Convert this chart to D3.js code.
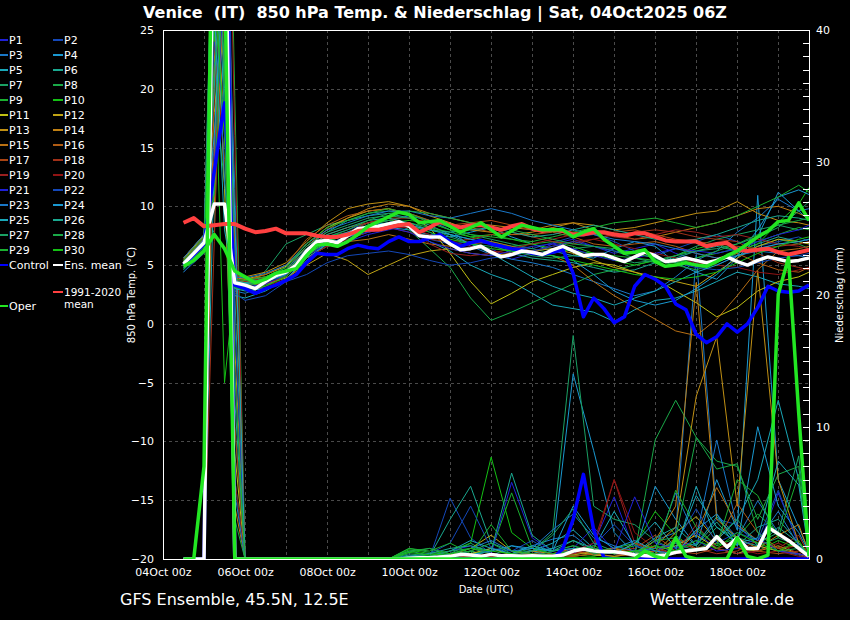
<!DOCTYPE html>
<html>
<head>
<meta charset="utf-8">
<script src="https://cdn.jsdelivr.net/npm/d3@7"></script>
<style>
body { margin: 0; background: #000; }
text { font-family: "DejaVu Sans", sans-serif; fill: #fff; }
</style>
</head>
<body>
<svg id="chart" width="850" height="620"></svg>
<script>
// GFS ensemble plume, Venice, run 04Oct2025 06Z

const startTime = Date.UTC(2025, 9, 4, 12); // first step, 6-hourly afterwards
const steps = d3.range(62);
// members are read at 12h resolution (6h around the 05Oct glitch)
const memberSteps = [0, 2, 3, 4, 5, 6, 8, 10, 12, 14, 16, 18, 20, 22, 24, 26, 28, 30, 32, 34, 36, 38, 40, 42, 44, 46, 48, 50, 52, 54, 56, 58, 60, 61];

const xTicks = [0, 2, 4, 6, 8, 10, 12, 14].map(d => new Date(Date.UTC(2025, 9, 4 + d)));
const tempTicks = [-20, -15, -10, -5, 0, 5, 10, 15, 20, 25];
const precTicks = [0, 10, 20, 30, 40];

const ensMeanTemp = [5.1, 6.0, 6.9, 10.2, 10.2, 3.5, 3.3, 3.0, 3.6, 4.1, 4.4, 5.0, 6.2, 7.0, 7.1, 6.9, 7.5, 8.1, 8.2, 8.3,
  8.5, 8.7, 8.3, 7.5, 7.4, 7.4, 6.8, 6.3, 6.4, 6.6, 6.1, 5.7, 5.9, 6.2, 6.1, 5.9, 6.3, 6.6, 6.2, 5.8,
  5.9, 5.9, 5.6, 5.3, 5.7, 6.1, 5.8, 5.3, 5.4, 5.6, 5.4, 5.2, 5.4, 5.7, 5.3, 5.0, 5.4, 5.7, 5.5, 5.3, 5.4, 5.6];
const climTemp = [8.6, 9.0, 8.3, 8.4, 8.5, 8.5, 8.1, 7.8, 7.9, 8.1, 7.7, 7.7, 7.7, 7.5, 7.4, 7.4, 7.6, 7.9, 8.0, 8.0,
  8.2, 8.4, 8.5, 7.8, 8.2, 8.7, 8.4, 8.2, 8.4, 8.4, 8.2, 8.0, 8.3, 8.5, 8.1, 7.9, 8.0, 7.9, 7.6, 7.6,
  7.8, 7.8, 7.6, 7.5, 7.7, 7.7, 7.4, 7.1, 7.0, 7.0, 7.0, 6.6, 6.8, 6.9, 6.3, 6.2, 6.3, 6.4, 6.1, 5.9, 6.1, 6.3];
const controlTemp = [5.0, 5.9, 6.8, 13.0, 18.8, 3.3, 3.0, 2.6, 3.0, 3.3, 3.7, 4.2, 5.2, 6.0, 5.9, 5.9, 6.4, 6.7, 6.5, 6.4,
  7.0, 7.4, 7.0, 7.0, 7.3, 7.6, 7.0, 6.6, 6.9, 7.1, 6.8, 6.6, 6.4, 6.3, 6.0, 5.9, 6.1, 6.3, 4.3, 0.6,
  2.2, 1.3, 0.1, 0.6, 3.2, 4.2, 3.8, 3.2, 1.7, 1.2, -0.9, -1.6, -1.1, 0.0, -0.7, 0.0, 1.4, 3.2, 2.8, 2.7, 2.8, 3.3];
const operTemp = [4.9, 5.4, 6.2, 7.6, 6.4, 4.5, 4.0, 3.5, 3.8, 4.3, 4.5, 4.7, 5.8, 6.7, 6.8, 6.6, 7.0, 7.6, 8.3, 8.7,
  9.1, 9.5, 9.3, 8.6, 8.7, 8.8, 8.3, 7.8, 8.2, 8.6, 8.0, 7.4, 7.9, 8.4, 8.2, 8.0, 8.0, 8.0, 7.4, 7.8,
  8.1, 7.2, 6.6, 6.0, 6.1, 6.3, 5.3, 4.9, 5.0, 5.2, 5.0, 4.9, 5.3, 5.8, 6.2, 6.8, 7.4, 7.9, 8.7, 8.8, 10.3, 8.8];

const ensMeanPrec = [0, 0, 0, 55, 55, 0, 0, 0, 0, 0, 0, 0, 0, 0, 0, 0, 0, 0, 0, 0,
  0, 0, 0.05, 0.1, 0.1, 0.15, 0.2, 0.35, 0.3, 0.2, 0.35, 0.25, 0.25, 0.2, 0.25, 0.2, 0.2, 0.3, 0.6, 0.75,
  0.6, 0.55, 0.55, 0.45, 0.3, 0.25, 0.2, 0.3, 0.5, 0.6, 0.7, 0.8, 1.7, 0.9, 1.6, 0.8, 0.8, 2.4, 1.9, 1.4, 0.8, 0.2];
const controlPrec = [0, 0, 0, 60, 65, 0, 0, 0, 0, 0, 0, 0, 0, 0, 0, 0, 0, 0, 0, 0,
  0, 0, 0, 0, 0, 0, 0, 0, 0, 0, 0, 0, 0, 0, 0, 0, 0, 0.8, 3.0, 6.4,
  2.2, 0.1, 0, 0, 0, 0, 0, 0, 0, 0, 0, 0, 0, 0, 0, 0, 0, 0, 0, 0, 0, 0];
const operPrec = [0, 0, 7, 60, 45, 0, 0, 0, 0, 0, 0, 0, 0, 0, 0, 0, 0, 0, 0, 0,
  0, 0, 0, 0, 0, 0, 0, 0, 0, 0, 0, 0, 0, 0, 0, 0, 0, 0, 0, 0,
  0, 0, 0, 0, 0, 0.6, 0.2, 0, 1.6, 0.2, 0, 0, 0, 0, 1.6, 0.2, 0, 0.3, 20, 22.8, 11, 0.2];

// P1 .. P30, temperature at memberSteps
const memberTemp = [
  [5.0, 6.8, 22, 30, 3.2, 3.0, 3.4, 4.0, 5.6, 6.6, 7.0, 7.6, 8.0, 8.4, 7.8, 7.0, 6.6, 6.4, 5.5, 6.0, 6.8, 7.2, 6.6, 6.0, 6.4, 6.8, 6.0, 5.4, 5.0, 5.8, 6.4, 6.8, 7.0, 7.2],
  [5.2, 7.0, 15, 28, 3.4, 3.3, 3.8, 4.5, 6.4, 7.4, 8.0, 8.6, 8.8, 8.0, 7.2, 6.8, 7.0, 6.8, 6.6, 6.4, 6.9, 7.4, 7.6, 7.0, 6.2, 5.8, 6.4, 7.0, 7.6, 7.0, 6.6, 7.0, 7.4, 7.0],
  [4.8, 6.6, 35, 18, 2.8, 2.6, 3.2, 4.2, 5.9, 7.0, 7.6, 8.4, 8.8, 9.2, 8.8, 8.0, 6.6, 5.9, 5.5, 5.2, 4.8, 4.2, 3.6, 3.0, 2.4, 2.8, 4.0, 5.4, 6.2, 7.8, 9.0, 10.6, 9.6, 9.8],
  [5.3, 7.2, 26, 38, 3.6, 3.5, 3.9, 4.6, 6.0, 6.8, 7.2, 7.8, 8.2, 8.0, 7.6, 7.4, 7.8, 8.2, 7.4, 6.8, 6.2, 5.8, 5.6, 6.4, 7.0, 6.6, 5.2, 4.4, 3.8, 5.6, 7.4, 11.2, 9.6, 8.8],
  [4.6, 6.4, 12, 24, 2.4, 2.2, 2.8, 3.8, 5.4, 6.8, 7.4, 8.0, 8.4, 8.2, 7.0, 6.2, 5.0, 4.2, 3.6, 2.6, 1.6, 1.3, 1.0, 0.2, 1.2, 2.0, 2.2, 2.8, 3.6, 4.4, 4.0, 3.4, 3.2, 3.0],
  [5.1, 6.9, 40, 20, 3.8, 3.6, 4.0, 4.8, 6.6, 7.8, 8.8, 9.2, 9.4, 9.0, 8.4, 7.6, 7.2, 6.8, 6.0, 5.6, 5.4, 5.2, 4.8, 4.4, 4.6, 5.2, 5.6, 6.2, 6.6, 6.2, 6.8, 7.4, 7.0, 6.8],
  [4.4, 6.2, 8, 33, 3.0, 3.1, 4.5, 6.8, 7.6, 8.4, 8.8, 9.4, 9.6, 9.4, 8.8, 8.2, 7.6, 7.2, 6.8, 6.4, 6.0, 6.4, 6.6, 6.2, 5.6, 5.2, 5.8, 6.6, 7.2, 7.6, 8.0, 8.4, 8.0, 8.2],
  [5.4, 7.4, 30, 36, 3.3, 3.0, 3.5, 4.3, 6.2, 7.0, 7.8, 8.6, 9.0, 8.0, 6.4, 4.8, 2.2, 0.3, 1.0, 1.8, 2.6, 3.4, 4.2, 4.6, 5.0, 5.4, 5.0, 4.6, 5.2, 6.0, 6.6, 7.2, 6.8, 6.4],
  [5.0, 7.0, 20, 12, 3.1, 2.9, 3.3, 4.1, 6.0, 7.4, 7.8, 8.4, 8.8, 8.6, 8.2, 7.8, 7.4, 7.0, 6.6, 6.8, 7.0, 6.6, 6.0, 5.8, 5.6, 5.4, 5.2, 5.6, 6.0, 6.4, 7.0, 7.6, 8.2, 8.0],
  [4.9, 6.7, 25, -5, 3.5, 3.4, 3.7, 4.4, 6.3, 7.2, 7.6, 8.2, 8.6, 8.8, 8.6, 8.0, 7.4, 7.6, 7.2, 6.8, 6.4, 6.2, 6.0, 5.4, 5.0, 5.4, 5.8, 6.4, 6.8, 6.2, 6.8, 8.6, 10.2, 11.6],
  [5.6, 7.6, 18, 26, 3.9, 3.8, 4.2, 4.9, 6.8, 8.2, 9.0, 9.6, 9.8, 9.2, 8.2, 6.0, 3.6, 1.7, 2.6, 3.6, 4.2, 4.8, 5.2, 5.0, 4.4, 3.8, 2.8, 1.8, 0.6, 1.4, 2.8, 3.6, 4.0, 4.4],
  [5.2, 7.1, 32, 16, 3.7, 3.6, 3.4, 3.9, 5.0, 6.0, 5.4, 4.2, 5.0, 5.8, 6.2, 6.4, 6.0, 5.8, 6.0, 6.2, 6.4, 6.0, 5.4, 4.8, 4.4, 4.0, 3.6, 3.2, 4.4, 5.6, 6.6, 7.2, 7.0, 6.8],
  [5.5, 7.5, 10, 30, 4.1, 4.0, 4.4, 5.2, 7.0, 8.6, 9.8, 10.2, 10.4, 10.0, 9.2, 8.6, 8.0, 7.8, 7.6, 7.8, 8.2, 8.6, 8.4, 8.0, 8.2, 8.6, 9.0, 9.4, 9.6, 10.4, 9.4, 8.8, 8.6, 8.4],
  [5.3, 7.2, 22, 40, 3.9, 3.8, 4.0, 4.6, 6.6, 8.0, 9.0, 9.8, 10.2, 10.0, 9.4, 9.0, 8.6, 8.4, 8.2, 8.0, 8.4, 8.6, 8.0, 7.6, 7.2, 7.4, 7.8, 8.2, 8.6, 9.2, 9.8, 10.0, 9.4, 9.0],
  [5.0, 6.8, 28, 22, 3.4, 3.2, 3.0, 3.6, 5.6, 6.6, 7.0, 7.2, 7.6, 7.2, 6.8, 6.6, 6.8, 7.0, 6.6, 6.2, 5.8, 5.0, 3.6, 2.4, 1.4, 0.4, -0.6, -1.0, 0.4, 2.4, 4.6, 6.2, 6.4, 6.6],
  [5.4, 7.3, 14, 34, 3.7, 3.7, 4.2, 5.0, 7.2, 8.4, 9.2, 9.6, 9.8, 9.4, 8.8, 8.4, 8.2, 7.8, 7.6, 7.6, 7.8, 7.4, 6.8, 6.6, 6.8, 7.0, 6.6, 6.0, 5.6, 6.0, 5.2, 4.6, 4.4, 4.8],
  [5.2, 7.0, 36, 28, 3.6, 3.4, 3.6, 4.4, 6.4, 7.6, 8.2, 8.6, 9.0, 9.0, 8.6, 8.4, 8.6, 8.8, 8.4, 8.0, 8.0, 7.8, 7.6, 7.8, 8.0, 7.6, 7.2, 7.0, 6.8, 6.6, 6.4, 6.6, 6.8, 7.0],
  [5.1, 6.9, 24, 14, 3.5, 3.3, 3.4, 4.0, 5.8, 6.8, 7.4, 8.0, 8.2, 7.8, 7.2, 7.0, 7.2, 7.6, 7.8, 7.4, 7.0, 6.8, 7.2, 7.6, 7.8, 8.0, 7.8, 7.4, 7.2, 7.0, 6.0, 5.2, 4.8, 4.6],
  [5.3, 7.1, 19, 36, 3.8, 3.6, 3.9, 4.5, 6.2, 7.2, 7.8, 8.6, 9.0, 8.4, 6.8, 6.0, 5.8, 6.0, 6.4, 6.8, 7.2, 7.6, 7.8, 7.4, 7.2, 7.6, 8.0, 7.8, 7.4, 7.6, 7.2, 6.8, 6.6, 6.4],
  [4.9, 6.6, 30, 24, 3.2, 3.0, 3.2, 3.8, 5.6, 6.6, 7.2, 7.8, 8.2, 8.2, 7.6, 7.0, 6.6, 6.2, 6.0, 6.2, 6.6, 7.0, 7.2, 6.8, 6.4, 6.0, 5.6, 5.2, 5.0, 4.8, 4.4, 4.2, 4.6, 4.8],
  [5.0, 6.8, 13, 30, 3.3, 3.1, 3.4, 4.2, 5.8, 6.8, 7.4, 7.8, 8.2, 7.8, 7.0, 6.4, 6.0, 5.8, 6.2, 6.6, 6.8, 6.4, 5.8, 5.4, 5.6, 6.0, 6.4, 6.2, 6.0, 6.4, 7.0, 7.6, 8.0, 8.4],
  [4.4, 6.0, 24, 18, 2.6, 2.0, 2.4, 3.6, 4.2, 5.2, 5.8, 6.0, 6.2, 5.9, 5.4, 5.0, 5.2, 5.6, 5.8, 6.2, 6.6, 7.0, 6.6, 6.2, 6.0, 5.6, 5.2, 4.8, 4.6, 4.8, 5.2, 5.6, 5.8, 6.0],
  [5.6, 7.6, 34, 12, 4.0, 3.9, 4.3, 5.0, 6.8, 8.0, 8.6, 9.2, 9.6, 9.6, 9.2, 9.0, 9.4, 9.8, 9.4, 8.8, 8.4, 8.0, 7.6, 7.2, 7.0, 6.8, 6.4, 6.0, 5.6, 5.8, 6.2, 6.0, 5.8, 5.6],
  [5.2, 7.2, 16, 32, 3.6, 3.4, 3.6, 4.2, 6.0, 7.2, 7.8, 8.4, 8.6, 8.4, 8.0, 7.6, 7.2, 6.8, 6.4, 6.0, 5.8, 5.4, 4.2, 2.8, 2.0, 1.6, 2.0, 3.0, 4.2, 5.8, 8.0, 10.8, 11.4, 11.0],
  [4.8, 6.6, 27, 8, 3.0, 2.8, 3.0, 3.8, 5.6, 6.8, 7.4, 8.0, 8.4, 8.4, 8.0, 7.6, 6.8, 6.0, 5.0, 4.0, 3.2, 2.6, 2.2, 1.6, 2.2, 2.8, 3.6, 4.4, 5.0, 5.8, 6.4, 6.8, 7.0, 7.2],
  [5.3, 7.1, 20, 38, 3.7, 3.5, 3.8, 4.4, 6.4, 7.6, 8.2, 8.8, 9.0, 8.6, 8.0, 7.8, 8.0, 8.2, 7.8, 7.4, 7.6, 8.0, 8.4, 8.0, 7.6, 7.2, 7.0, 7.2, 7.6, 8.2, 8.8, 9.2, 9.0, 8.8],
  [5.0, 6.8, 38, 22, 3.4, 3.2, 3.6, 4.6, 6.6, 7.8, 8.4, 9.0, 9.2, 9.0, 8.2, 7.4, 6.8, 6.6, 6.2, 5.8, 5.6, 5.8, 6.0, 5.6, 5.2, 5.4, 5.8, 6.2, 6.4, 6.8, 7.4, 8.2, 9.6, 10.4],
  [5.1, 7.0, 22, 28, 3.5, 3.3, 3.7, 4.3, 6.2, 7.4, 8.0, 8.8, 9.4, 9.6, 9.4, 9.0, 8.6, 8.2, 8.0, 7.6, 7.2, 6.8, 6.6, 6.4, 6.0, 5.6, 5.2, 5.6, 6.2, 6.8, 7.6, 8.4, 8.8, 9.0],
  [5.4, 7.4, 11, 34, 3.8, 3.7, 4.0, 4.8, 6.8, 8.2, 8.8, 9.4, 9.8, 9.4, 8.6, 8.0, 7.6, 7.4, 7.2, 7.0, 7.4, 7.8, 8.2, 8.6, 8.8, 9.0, 8.6, 8.2, 8.6, 9.2, 10.0, 10.8, 11.8, 11.2],
  [4.7, 6.5, 29, 16, 3.1, 2.9, 3.2, 4.0, 5.8, 7.0, 7.6, 8.2, 8.6, 8.4, 7.8, 7.2, 6.8, 6.4, 6.2, 6.0, 5.8, 5.4, 5.0, 4.6, 4.2, 4.0, 3.8, 4.0, 4.4, 5.2, 6.0, 6.6, 7.2, 7.4]
];

// P1 .. P30, precipitation at memberSteps
const memberPrec = [
  [0, 0, 55, 62, 14, 0, 0, 0, 0, 0, 0, 0, 0, 0, 0, 0.2, 0.6, 0, 0.3, 0.2, 0.8, 0.4, 1.2, 4.7, 0.6, 0.3, 1.0, 2.0, 0.8, 0.4, 0.8, 5.0, 1.2, 0.2],
  [0, 0, 48, 70, 0, 0, 0, 0, 0, 0, 0, 0, 0, 0, 0.1, 4.6, 1.6, 0.4, 0, 0.6, 0.2, 0.8, 0.3, 0.6, 0.2, 0.4, 0.6, 1.2, 3.0, 2.6, 1.0, 0.6, 0.3, 0],
  [0, 0, 66, 52, 28, 0, 0, 0, 0, 0, 0, 0, 0, 0, 0, 0.1, 0.3, 0.8, 0.4, 1.0, 1.5, 1.8, 0.6, 0.4, 0.3, 1.4, 2.0, 23.0, 3.4, 1.6, 4.4, 2.0, 0.8, 0.3],
  [0, 0, 58, 75, 0, 0, 0, 0, 0, 0, 0, 0, 0, 0, 0, 0.2, 0.4, 0.2, 1.0, 0.6, 0.8, 14.0, 8.2, 2.0, 0.4, 5.5, 3.0, 1.0, 6.0, 2.2, 27.5, 6.0, 2.4, 0.6],
  [0, 0, 30, 60, 6, 0, 0, 0, 0, 0, 0, 0, 0, 0.2, 0.1, 0.3, 0.6, 0.2, 0.4, 0.6, 1.2, 2.2, 0.8, 3.6, 1.0, 0.4, 0.6, 5.5, 1.4, 3.0, 6.0, 12.0, 6.0, 0.8],
  [0, 0, 70, 50, 20, 0, 0, 0, 0, 0, 0, 0, 0, 0.3, 0.2, 3.0, 5.5, 1.2, 0.6, 0.4, 0.8, 1.4, 0.6, 0.4, 0.2, 0.6, 1.4, 1.0, 2.8, 1.0, 2.4, 3.0, 1.2, 0.4],
  [0, 0, 52, 66, 0, 0, 0, 0, 0, 0, 0, 0, 0, 0.6, 0.3, 0.4, 1.2, 0.3, 0.4, 0.6, 2.0, 16.9, 4.0, 3.0, 2.6, 1.4, 0.6, 0.8, 2.4, 1.6, 1.2, 2.0, 7.8, 0.6],
  [0, 0, 62, 58, 10, 0, 0, 0, 0, 0, 0, 0, 0, 0.8, 0.5, 0.3, 0.6, 0.2, 0.4, 0.8, 0.6, 1.0, 0.6, 0.8, 0.4, 9.0, 12.0, 9.2, 7.4, 7.0, 3.0, 6.4, 7.0, 1.0],
  [0, 0, 50, 72, 35, 0, 0, 0, 0, 0, 0, 0, 0, 0.5, 0.8, 0.2, 0.4, 0.6, 5.0, 0.8, 0.4, 0.3, 0.6, 0.8, 1.2, 0.4, 0.6, 2.2, 1.0, 1.6, 3.4, 2.0, 0.8, 0.2],
  [0, 0, 75, 48, 0, 0, 0, 0, 0, 0, 0, 0, 0, 0.7, 0.4, 0.6, 1.2, 7.7, 2.0, 0.8, 0.4, 0.3, 0.2, 0.6, 1.0, 3.6, 1.8, 0.6, 1.2, 0.8, 0.6, 1.4, 0.8, 0.2],
  [0, 0, 46, 28, 8, 0, 0, 0, 0, 0, 0, 0, 0, 0, 0, 0.2, 0.4, 0.8, 0.3, 0.2, 0.4, 0.6, 0.3, 0.2, 0.4, 0.6, 1.0, 1.8, 0.8, 0.4, 1.0, 0.6, 0.4, 0.1],
  [0, 0, 60, 54, 0, 0, 0, 0, 0, 0, 0, 0, 0, 0, 0, 0.3, 0.8, 1.8, 0.6, 0.4, 0.3, 0.2, 0.4, 0.6, 0.2, 0.4, 2.0, 3.2, 1.4, 0.8, 0.6, 1.0, 0.4, 0.2],
  [0, 0, 68, 70, 16, 0, 0, 0, 0, 0, 0, 0, 0, 0, 0, 0, 0.2, 0.4, 0.2, 0.6, 0.4, 0.3, 0.6, 0.8, 0.4, 1.0, 2.4, 12.3, 16.8, 4.0, 21.8, 6.0, 1.2, 0.4],
  [0, 0, 54, 46, 4, 0, 0, 0, 0, 0, 0, 0, 0, 0, 0, 0.1, 0.2, 0.3, 0.2, 0.4, 0.2, 0.6, 0.4, 0.2, 0.4, 1.4, 4.0, 20.9, 3.0, 1.6, 0.8, 1.8, 2.6, 0.4],
  [0, 0, 36, 62, 0, 0, 0, 0, 0, 0, 0, 0, 0, 0, 0, 0, 0.2, 0.1, 0.3, 0.2, 0.4, 0.8, 0.6, 0.4, 1.2, 0.8, 0.4, 2.0, 5.4, 2.6, 1.4, 0.8, 0.4, 0.1],
  [0, 0, 49, 58, 24, 0, 0, 0, 0, 0, 0, 0, 0, 0, 0, 0.1, 0.2, 0.3, 0.1, 0.2, 0.3, 0.4, 0.6, 0.8, 0.6, 0.4, 1.6, 0.8, 1.2, 4.2, 2.0, 0.8, 1.0, 0.3],
  [0, 0, 64, 76, 10, 0, 0, 0, 0, 0, 0, 0, 0, 0, 0, 0, 0.1, 0.2, 0.4, 0.2, 0.3, 0.2, 0.4, 0.6, 0.8, 1.8, 0.6, 0.4, 0.8, 1.2, 0.6, 0.4, 0.6, 0.2],
  [0, 0, 24, 50, 0, 0, 0, 0, 0, 0, 0, 0, 0, 0, 0, 0, 0.2, 0.1, 0.2, 0.4, 0.2, 0.6, 0.8, 0.4, 0.2, 0.6, 1.2, 0.8, 0.4, 0.6, 1.4, 0.8, 1.8, 0.3],
  [0, 0, 51, 68, 32, 0, 0, 0, 0, 0, 0, 0, 0, 0, 0, 0.1, 0.2, 0.4, 0.2, 0.1, 0.3, 0.4, 0.8, 6.0, 1.2, 0.6, 0.4, 2.6, 0.8, 0.4, 0.6, 1.2, 0.4, 0.2],
  [0, 0, 66, 55, 6, 0, 0, 0, 0, 0, 0, 0, 0, 0, 0, 0, 0.1, 0.2, 0.1, 0.2, 0.4, 0.6, 1.2, 6.0, 2.0, 0.8, 0.4, 0.6, 1.6, 0.8, 0.4, 0.6, 0.2, 0.1],
  [0, 0, 59, 63, 0, 0, 0, 0, 0, 0, 0, 0, 0, 0, 0.2, 0.6, 1.0, 0.4, 5.8, 1.6, 0.6, 0.8, 2.4, 0.6, 4.7, 1.2, 0.8, 1.4, 0.6, 0.8, 1.6, 0.6, 0.4, 0.2],
  [0, 0, 47, 71, 18, 0, 0, 0, 0, 0, 0, 0, 0, 0.2, 0.4, 1.2, 4.0, 0.8, 0.6, 1.4, 0.4, 0.6, 1.0, 2.6, 1.0, 0.6, 1.2, 3.8, 1.2, 2.0, 1.4, 5.2, 1.0, 0.3],
  [0, 0, 73, 52, 5, 0, 0, 0, 0, 0, 0, 0, 0, 0, 0.1, 0.4, 0.8, 1.4, 0.6, 0.8, 2.2, 3.4, 1.6, 1.0, 0.6, 0.8, 5.0, 1.6, 9.0, 2.4, 1.4, 3.6, 1.0, 0.4],
  [0, 0, 56, 60, 0, 0, 0, 0, 0, 0, 0, 0, 0, 0, 0, 0.2, 0.3, 0.6, 1.0, 0.8, 0.6, 4.0, 1.8, 0.8, 1.4, 0.6, 0.4, 2.2, 3.4, 1.0, 10.0, 4.0, 2.0, 0.5],
  [0, 0, 62, 47, 26, 0, 0, 0, 0, 0, 0, 0, 0, 0.1, 0.2, 0.6, 1.4, 0.8, 0.4, 1.0, 0.6, 0.8, 0.6, 0.4, 1.2, 2.8, 0.8, 4.8, 2.4, 1.2, 1.6, 7.4, 5.6, 0.4],
  [0, 0, 50, 66, 12, 0, 0, 0, 0, 0, 0, 0, 0, 0.2, 0.4, 0.8, 1.0, 0.6, 6.5, 1.8, 0.6, 1.4, 0.8, 0.6, 0.4, 1.6, 2.4, 1.0, 3.2, 1.4, 1.0, 2.4, 1.2, 0.2],
  [0, 0, 69, 33, 0, 0, 0, 0, 0, 0, 0, 0, 0, 0.4, 0.2, 0.6, 0.8, 0.4, 0.2, 0.6, 1.8, 3.8, 1.2, 0.6, 0.4, 0.8, 1.2, 0.6, 1.6, 3.0, 1.0, 1.6, 1.0, 0.2],
  [0, 0, 53, 74, 3, 0, 0, 0, 0, 0, 0, 0, 0, 0.6, 0.8, 0.4, 0.6, 1.2, 0.4, 0.2, 0.6, 1.0, 0.4, 0.6, 0.2, 1.4, 1.6, 9.2, 6.8, 7.2, 2.0, 0.6, 0.8, 0.2],
  [0, 0, 61, 49, 14, 0, 0, 0, 0, 0, 0, 0, 0, 0.8, 0.6, 1.2, 0.4, 2.6, 0.6, 0.4, 0.2, 0.6, 0.8, 0.4, 0.6, 0.4, 5.2, 2.4, 1.0, 6.0, 4.8, 1.6, 6.4, 0.4],
  [0, 0, 58, 65, 0, 0, 0, 0, 0, 0, 0, 0, 0, 0.5, 0.3, 0.4, 0.8, 0.6, 0.4, 0.2, 0.4, 0.6, 1.0, 0.4, 0.6, 1.0, 0.6, 1.4, 0.8, 2.0, 1.2, 0.6, 1.4, 0.2]
];

const memberColors = ["#2020d8", "#1448b8", "#1a78c8", "#1a98d0", "#1aa8b8", "#1aa890", "#1aa064", "#1aa848", "#1ab030", "#14c014",
  "#c0c014", "#c0a414", "#c09014", "#c08014", "#b87014", "#b05c14", "#a84414", "#a03018", "#982020", "#901414"];

const svg = d3.select("#chart");
const pL = 163, pR = 809, pT = 30, pB = 559;

const x = d3.scaleUtc()
  .domain([new Date(Date.UTC(2025, 9, 4, 0)), new Date(Date.UTC(2025, 9, 19, 18))])
  .range([pL, pR]);
const yT = d3.scaleLinear().domain([-20, 25]).range([pB, pT]);
const yP = d3.scaleLinear().domain([0, 40]).range([pB, pT]);
const timeAt = i => new Date(startTime + i * 6 * 3600 * 1000);

svg.append("rect").attr("width", 850).attr("height", 620).attr("fill", "#000");

// grid
const grid = svg.append("g").attr("stroke", "#4a4a4a").attr("stroke-dasharray", "3,3");
grid.selectAll(".vg")
  .data(d3.utcDay.range(new Date(Date.UTC(2025, 9, 5)), x.domain()[1]))
  .enter().append("line")
  .attr("x1", d => Math.round(x(d)) + 0.5).attr("x2", d => Math.round(x(d)) + 0.5)
  .attr("y1", pT).attr("y2", pB);
grid.selectAll(".hg")
  .data(tempTicks.slice(1, -1))
  .enter().append("line")
  .attr("x1", pL).attr("x2", pR)
  .attr("y1", d => Math.round(yT(d)) + 0.5).attr("y2", d => Math.round(yT(d)) + 0.5);

svg.append("clipPath").attr("id", "clip")
  .append("rect").attr("x", pL).attr("y", pT).attr("width", pR - pL).attr("height", pB - pT);
const plot = svg.append("g").attr("clip-path", "url(#clip)").attr("fill", "none");

function drawSeries(idx, vals, scale, color, width) {
  const line = d3.line()
    .defined(d => d[1] != null && !isNaN(d[1]))
    .x(d => x(timeAt(d[0])))
    .y(d => scale(d[1]));
  plot.append("path")
    .datum(idx.map((s, j) => [s, vals[j]]))
    .attr("d", line)
    .attr("stroke", color)
    .attr("stroke-width", width)
    .attr("stroke-linejoin", "round");
}

memberTemp.forEach((t, m) => {
  const col = memberColors[m % 20];
  drawSeries(memberSteps, t, yT, col, 1);
  drawSeries(memberSteps, memberPrec[m], yP, col, 1);
});

drawSeries(steps, controlPrec, yP, "#0000ff", 3.5);
drawSeries(steps, controlTemp, yT, "#0000ff", 3.5);
drawSeries(steps, ensMeanPrec, yP, "#ffffff", 3.5);
drawSeries(steps, ensMeanTemp, yT, "#ffffff", 3.5);
drawSeries(steps, climTemp, yT, "#ff4040", 4);
drawSeries(steps, operPrec, yP, "#22e622", 3.5);
drawSeries(steps, operTemp, yT, "#22e622", 3.5);

// frame
svg.append("rect")
  .attr("x", pL + 0.5).attr("y", pT + 0.5)
  .attr("width", pR - pL).attr("height", pB - pT)
  .attr("fill", "none").attr("stroke", "#fff");

// axes
const xAxis = svg.append("g")
  .attr("transform", `translate(0,${pB + 1})`)
  .call(d3.axisBottom(x).tickValues(xTicks).tickFormat(d3.utcFormat("%d%b %Hz")).tickSize(0).tickPadding(8));
const yAxisL = svg.append("g")
  .attr("transform", `translate(${pL},0)`)
  .call(d3.axisLeft(yT).tickValues(tempTicks).tickSize(0).tickPadding(9));
const yAxisR = svg.append("g")
  .attr("transform", `translate(${pR + 1},0)`)
  .call(d3.axisRight(yP).tickValues(precTicks).tickSize(0).tickPadding(6));
[xAxis, yAxisL, yAxisR].forEach(a => {
  a.select(".domain").remove();
  a.selectAll("text").attr("font-family", "DejaVu Sans").attr("font-size", 11).attr("fill", "#fff");
});

// inward minor ticks on the precipitation axis
svg.append("g").attr("stroke", "#fff")
  .selectAll("line").data(d3.range(1, 40))
  .enter().append("line")
  .attr("x1", pR - 6).attr("x2", pR)
  .attr("y1", d => Math.round(yP(d)) + 0.5).attr("y2", d => Math.round(yP(d)) + 0.5);

// titles
svg.append("text").attr("x", 435).attr("y", 18).attr("text-anchor", "middle")
  .attr("font-size", 16).attr("font-weight", "bold")
  .style("white-space", "pre")
  .text("Venice  (IT)  850 hPa Temp. & Niederschlag | Sat, 04Oct2025 06Z");
svg.append("text").attr("transform", "translate(135,295) rotate(-90)").attr("text-anchor", "middle")
  .attr("font-size", 10).text("850 hPa Temp. (°C)");
svg.append("text").attr("transform", "translate(843,295) rotate(-90)").attr("text-anchor", "middle")
  .attr("font-size", 10).text("Niederschlag (mm)");
svg.append("text").attr("x", 486).attr("y", 593).attr("text-anchor", "middle")
  .attr("font-size", 10).text("Date (UTC)");
svg.append("text").attr("x", 120).attr("y", 605).attr("font-size", 16).text("GFS Ensemble, 45.5N, 12.5E");
svg.append("text").attr("x", 794).attr("y", 605).attr("text-anchor", "end").attr("font-size", 16).text("Wetterzentrale.de");

// legend
const legendItems = memberColors.concat(memberColors.slice(0, 10)).map((c, m) => ({
  label: "P" + (m + 1), color: c, col: m % 2, row: Math.floor(m / 2)
}));
legendItems.push({ label: "Control", color: "#0000ff", col: 0, row: 15 });
legendItems.push({ label: "Ens. mean", color: "#ffffff", col: 1, row: 15 });
const legend = svg.append("g");
const lg = legend.selectAll("g").data(legendItems).enter().append("g")
  .attr("transform", d => `translate(${d.col ? 53 : 0},${40 + d.row * 15})`);
lg.append("line").attr("x1", 0).attr("x2", d => d.col ? 10 : 8).attr("stroke", d => d.color).attr("stroke-width", 2);
lg.append("text").attr("x", d => d.col ? 11 : 9).attr("dy", "0.35em").attr("font-size", 11).text(d => d.label);

const clim = legend.append("g").attr("transform", "translate(53,292)");
clim.append("line").attr("x1", 0).attr("x2", 10).attr("stroke", "#ff4040").attr("stroke-width", 2);
clim.append("text").attr("x", 11).attr("dy", "0.35em").attr("font-size", 10.5).text("1991-2020");
clim.append("text").attr("x", 11).attr("y", 12).attr("dy", "0.35em").attr("font-size", 10.5).text("mean");
const oper = legend.append("g").attr("transform", "translate(0,306)");
oper.append("line").attr("x1", 0).attr("x2", 8).attr("stroke", "#22e622").attr("stroke-width", 2);
oper.append("text").attr("x", 9).attr("dy", "0.35em").attr("font-size", 11).text("Oper");
</script>
</body>
</html>
